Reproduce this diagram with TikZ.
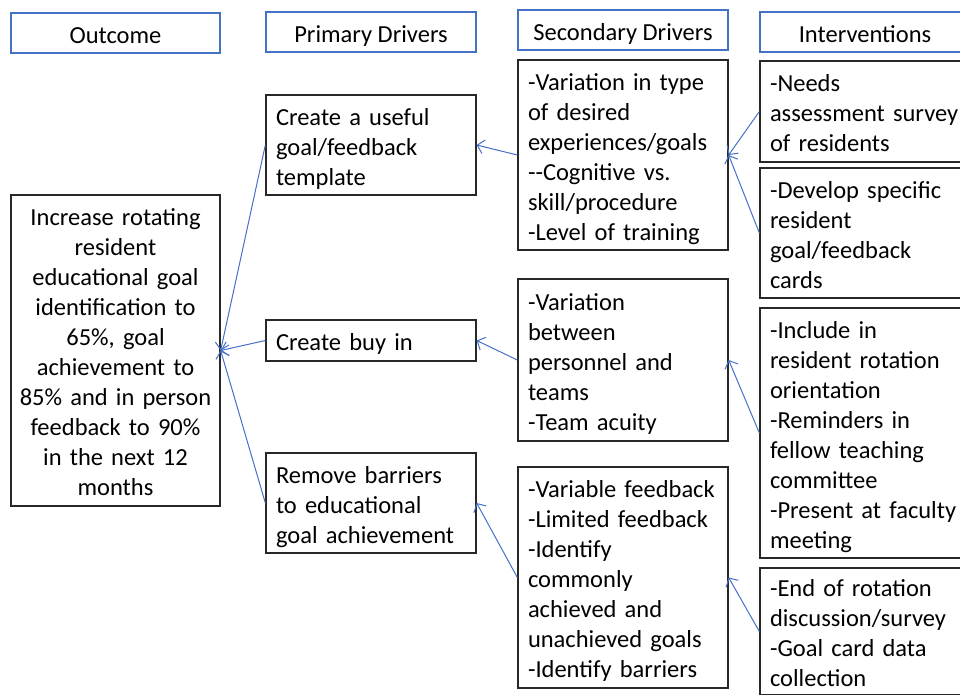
\documentclass[tikz,border=0pt]{standalone}
\usepackage{fontspec}
\setmainfont{Carlito}
\usepackage{tikz}
\usetikzlibrary{arrows.meta, positioning}
\definecolor{cHead}{RGB}{68,114,196}
\definecolor{cLine}{RGB}{70,112,200}
\definecolor{cBox}{RGB}{40,40,40}
\newcommand\boxstrut{\rule[-5pt]{0pt}{30pt}}
\tikzset{
	hdr/.style ={rectangle, draw=cHead, line width=1.2pt, minimum width=210pt, minimum height=40pt, inner sep=0pt, align=center},
	box/.style ={rectangle, draw=cBox, line width=1.3pt, text width=190pt, inner xsep=10pt, inner ysep=0pt, align=left},
	link/.style={-{Straight Barb[length=6.5pt, width=14pt]}, draw=cLine, line width=1pt},
}

\begin{document}
\begin{tikzpicture}[x=1pt, y=-1pt, every node/.style={font=\fontsize{24.5}{30}\selectfont, execute at begin node=\boxstrut, execute at end node=\boxstrut}]
	\useasboundingbox (0,0) rectangle (960,694);
	% column headings
	\node[hdr, minimum width=209pt] (hOut) at (115.5,33) {Outcome};
	\node[hdr] (hPri) at (371,32) {Primary Drivers};
	\node[hdr] (hSec) at (623,30) {Secondary Drivers};
	\node[hdr] (hInt) at (865,32) {Interventions};
	% aim
	\node[box, align=center, text width=201pt, inner xsep=4pt, minimum height=311pt] (goal) at (115.5,350.5) {Increase rotating\\ resident\\ educational goal\\ identification to\\ 65\%, goal\\ achievement to\\ 85\% and in person\\ feedback to 90\%\\ in the next 12\\ months};
	% primary drivers
	\node[box, minimum height=100pt] (pTempl) at (371,145) {Create a useful\\ goal/feedback\\ template};
	\node[box, minimum height=41pt] (pBuy) at (371,340.5) {Create buy in};
	\node[box, minimum height=100pt] (pBarr) at (371,503) {Remove barriers\\ to educational\\ goal achievement};
	% secondary drivers
	\node[box, minimum height=190pt] (sType) at (623,155) {-Variation in type\\ of desired\\ experiences/goals\\ -{}-Cognitive vs.\\ skill/procedure\\ -Level of training};
	\node[box, minimum height=162pt] (sPers) at (623,360) {-Variation\\ between\\ personnel and\\ teams\\ -Team acuity};
	\node[box, minimum height=221pt] (sFeed) at (623,577.5) {-Variable feedback\\ -Limited feedback\\ -Identify\\ commonly\\ achieved and\\ unachieved goals\\ -Identify barriers};
	% interventions
	\node[box, minimum height=101pt] (iNeeds) at (865,111.5) {-Needs\\ assessment survey\\ of residents};
	\node[box, minimum height=130pt] (iCards) at (865,233) {-Develop specific\\ resident\\ goal/feedback\\ cards};
	\node[box, minimum height=250pt] (iOrient) at (865,433) {-Include in\\ resident rotation\\ orientation\\ -Reminders in\\ fellow teaching\\ committee\\ -Present at faculty\\ meeting};
	\node[box, minimum height=127pt] (iSurvey) at (865,631.5) {-End of rotation\\ discussion/survey\\ -Goal card data\\ collection};
	% links, each pointing back to the item it supports
	\draw[link] (pTempl.west) -- (goal.east);
	\draw[link] (pBuy.west) -- (goal.east);
	\draw[link] (pBarr.west) -- (goal.east);
	\draw[link] (sType.west) -- (pTempl.east);
	\draw[link] (sPers.west) -- (pBuy.east);
	\draw[link] (sFeed.west) -- (pBarr.east);
	\draw[link] (iNeeds.west) -- (sType.east);
	\draw[link] (iCards.west) -- (sType.east);
	\draw[link] (iOrient.west) -- (sPers.east);
	\draw[link] (iSurvey.west) -- (sFeed.east);
\end{tikzpicture}
\end{document}
